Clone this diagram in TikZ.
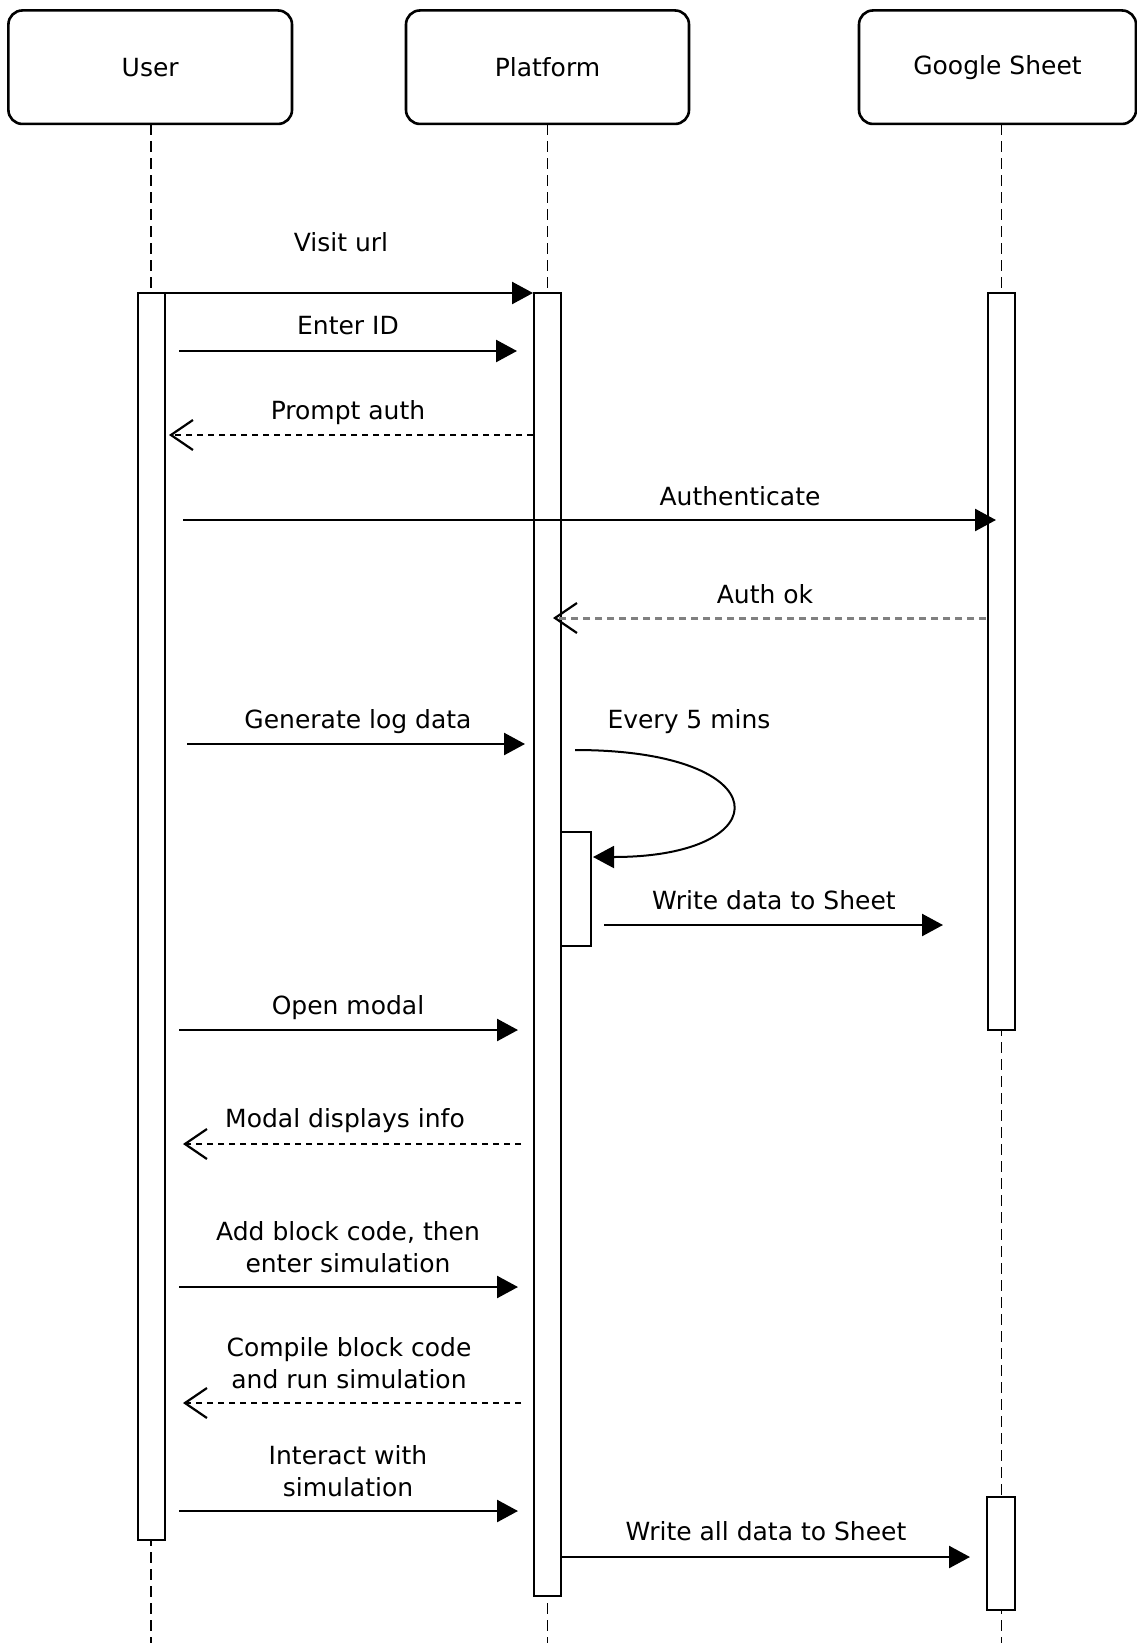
\documentclass[tikz,border=0pt]{standalone}
\usepackage{fontspec}
\setmainfont{DejaVu Sans}
\usetikzlibrary{arrows.meta}
\begin{document}
\begin{tikzpicture}[x=1pt,y=-1pt,
  headbox/.style={draw, line width=2.6pt, rounded corners=14pt, fill=white, font=\fontsize{25}{31}\selectfont, inner sep=0pt},
  lifeline/.style={line width=1.7pt, dash pattern=on 11pt off 6pt},
  actbar/.style={draw, line width=2.6pt, fill=white},
  msg/.style={line width=2.5pt, -{Triangle[length=21pt,width=22pt]}},
  selfmsg/.style={line width=2pt, -{Triangle[length=21pt,width=22pt]}},
  ret/.style={line width=2.2pt, dash pattern=on 6pt off 5pt, -{Straight Barb[length=22pt,width=30pt,line width=2.2pt,color=black]}},
  lbl/.style={font=\fontsize{25}{32}\selectfont, align=center, inner sep=0pt}
]
\useasboundingbox (0,0) rectangle (1137,1643);

% lifelines
\coordinate (uTop) at (151,124);   \coordinate (uBot) at (151,1643);
\coordinate (pTop) at (547.5,124); \coordinate (pBot) at (547.5,1643);
\coordinate (gTop) at (1001.5,124);\coordinate (gBot) at (1001.5,1643);
\draw[lifeline] (uTop) -- (uBot);
\draw[lifeline] (pTop) -- (pBot);
\draw[lifeline] (gTop) -- (gBot);

% heads
\node[headbox, minimum width=283.6pt, minimum height=113.5pt] (user) at (150.2,67.2) {User};
\node[headbox, minimum width=283pt, minimum height=113.5pt] (platform) at (547.5,67.2) {Platform};
\node[headbox, minimum width=277pt, minimum height=113.5pt] (sheet) at (997.5,67.2) {Google Sheet};

% activation bars
\draw[actbar] (138,293) rectangle (165,1540);
\draw[actbar] (534,293) rectangle (561,1596);
\draw[actbar] (988,293) rectangle (1015,1030);
\draw[actbar] (987,1497) rectangle (1015,1610);
\draw[actbar] (561,832) rectangle (591,946);

% message end points
\coordinate (m1a) at (165,293);  \coordinate (m1b) at (533,293);
\coordinate (m2a) at (179,351);  \coordinate (m2b) at (517,351);
\coordinate (m3a) at (533,435);  \coordinate (m3b) at (169,435);
\coordinate (m4a) at (183,520);  \coordinate (m4b) at (996,520);
\coordinate (m5a) at (986,618);  \coordinate (m5b) at (553,618);
\coordinate (m6a) at (187,744);  \coordinate (m6b) at (525,744);
\coordinate (m7a) at (575,750);  \coordinate (m7b) at (593,857);
\coordinate (m8a) at (604,925);  \coordinate (m8b) at (943,925);
\coordinate (m9a) at (179,1030); \coordinate (m9b) at (518,1030);
\coordinate (m10a) at (521,1144);\coordinate (m10b) at (183,1144);
\coordinate (m11a) at (179,1287);\coordinate (m11b) at (518,1287);
\coordinate (m12a) at (521,1403);\coordinate (m12b) at (183,1403);
\coordinate (m13a) at (179,1511);\coordinate (m13b) at (518,1511);
\coordinate (m14a) at (561,1557);\coordinate (m14b) at (970,1557);

\draw[msg] (m1a) -- (m1b);
\draw[msg] (m2a) -- (m2b);
\draw[ret] (m3a) -- (m3b);
\draw[msg] (m4a) -- (m4b);
\draw[ret, draw=black!50, line width=3pt, dash pattern=on 7pt off 5pt] (m5a) -- (m5b);
\draw[msg] (m6a) -- (m6b);
\draw[selfmsg] (m7a) .. controls (781,750) and (781,857) .. (m7b);
\draw[msg] (m8a) -- (m8b);
\draw[msg] (m9a) -- (m9b);
\draw[ret] (m10a) -- (m10b);
\draw[msg] (m11a) -- (m11b);
\draw[ret] (m12a) -- (m12b);
\draw[msg] (m13a) -- (m13b);
\draw[msg] (m14a) -- (m14b);

% labels
\node[lbl, anchor=base] (l1) at (341,251) {Visit url};
\node[lbl, anchor=base] (l2) at (348,334) {Enter ID};
\node[lbl, anchor=base] (l3) at (348,419) {Prompt auth};
\node[lbl, anchor=base] (l4) at (740,505) {Authenticate};
\node[lbl, anchor=base] (l5) at (765,603) {Auth ok};
\node[lbl, anchor=base] (l6) at (358,728) {Generate log data};
\node[lbl, anchor=base] (l7) at (689,728) {Every 5 mins};
\node[lbl, anchor=base] (l8) at (774,909) {Write data to Sheet};
\node[lbl, anchor=base] (l9) at (348,1014) {Open modal};
\node[lbl, anchor=base] (l10) at (345,1127) {Modal displays info};
\node[lbl] (l11) at (348,1247.5) {Add block code, then\\enter simulation};
\node[lbl] (l12) at (349,1363) {Compile block code\\and run simulation};
\node[lbl] (l13) at (348,1471) {Interact with\\simulation};
\node[lbl, anchor=base] (l14) at (766,1540) {Write all data to Sheet};
\end{tikzpicture}
\end{document}
